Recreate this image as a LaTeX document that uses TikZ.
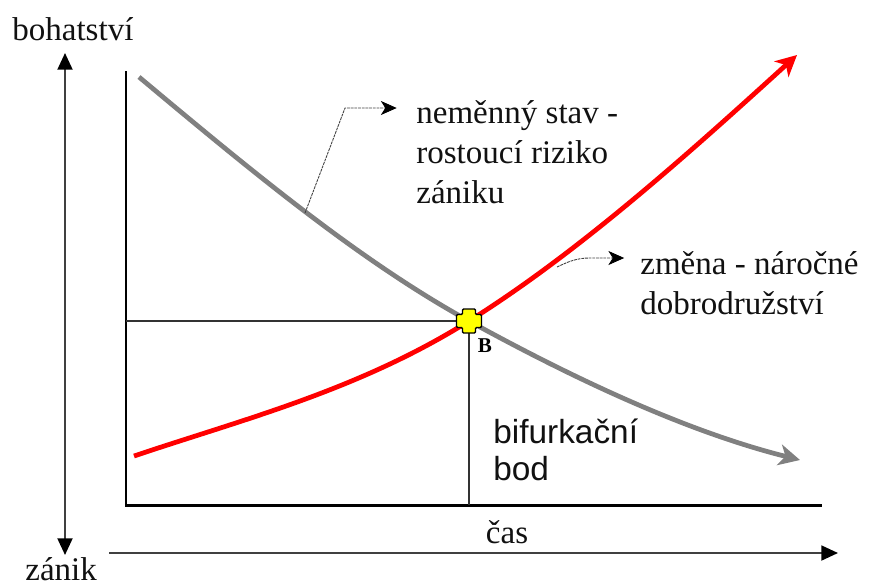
\documentclass[tikz,border=0pt]{standalone}
\usepackage{fontspec}
\setmainfont{Liberation Serif}
\newfontfamily\bifsans{Liberation Sans}
\usepackage{tikz}
\usetikzlibrary{arrows.meta, calc}
\definecolor{bfInk}{HTML}{111111}
\definecolor{bfGray}{HTML}{808080}
\definecolor{bfRed}{HTML}{FF0000}
\definecolor{bfYellow}{HTML}{FFFF00}
\definecolor{bfCall}{HTML}{404040}
\tikzset{
  lbl/.style    ={font=\fontsize{18.8}{22.7}\selectfont, align=left, inner sep=0pt, text=bfInk},
  sanslbl/.style={font=\bifsans\fontsize{19}{21}\selectfont, align=left, inner sep=0pt, text=bfInk},
  axis/.style   ={line width=1.2pt, draw=black!75, {Triangle[length=9.5pt,width=8.5pt,black]}-{Triangle[length=9.5pt,width=8.5pt,black]}},
  taxis/.style  ={line width=1.2pt, draw=black!75, -{Triangle[length=9.5pt,width=8.5pt,black]}},
  frame/.style  ={line width=1.7pt, black},
  guide/.style  ={line width=0.9pt, black!80},
  stay/.style   ={line width=2.7pt, bfGray, -{Stealth[length=12pt,width=12pt,inset=3.5pt]}},
  move/.style   ={line width=2.7pt, bfRed, -{Stealth[length=12pt,width=12pt,inset=3.5pt]}},
  call/.style   ={line width=0.5pt, bfCall, dash pattern=on 1.6pt off 0.5pt, -{Stealth[black,length=9pt,width=8pt,inset=2.5pt]}},
  crossmark/.style={draw=black, line width=0.8pt, fill=bfYellow, rounded corners=0.6pt},
}

\begin{document}
\begin{tikzpicture}[x=0.02cm, y=-0.02cm]
\useasboundingbox (0,0) rectangle (875,585);

% ---- outer axes ----
\coordinate (wtop) at (65,53);
\coordinate (wbot) at (65,555);
\coordinate (tstart) at (109,553);
\coordinate (tend) at (838,553);
\node[lbl, anchor=base west] (wealth)  at (12,40)   {bohatství};
\node[lbl, anchor=base west] (decline) at (25,580)  {zánik};
\node[lbl, anchor=base]      (time)    at (507,543) {čas};
\draw[axis]  (wtop) -- (wbot);
\draw[taxis] (tstart) -- (tend);

% ---- plot frame and guides ----
\coordinate (O)     at (126,505);
\coordinate (otop)  at (126,71);
\coordinate (oright) at (822,505);
\coordinate (B)     at (469,321);
\draw[frame] (otop) -- (O) -- (oright);
\draw[guide] (B -| O) -- (B) -- (B |- O);

% ---- curves ----
\draw[stay] (139,77) .. controls (249,169) and (359,260.5) .. (B)
  .. controls (579,381.5) and (690,432.5) .. (800,460);
\draw[move] (134,456) .. controls (244,419) and (359,390) .. (B)
  .. controls (579,252) and (687,155) .. (797,55);

% ---- bifurcation marker ----
\draw[crossmark] ([shift={(-6.5,-12)}]B) -- ++(13,0) -- ++(0,5.5) -- ++(6,0) -- ++(0,13)
  -- ++(-6,0) -- ++(0,5.5) -- ++(-13,0) -- ++(0,-5.5) -- ++(-6,0) -- ++(0,-13) -- ++(6,0) -- cycle;
\node[font=\fontsize{12}{14}\selectfont\bfseries, inner sep=0pt] (Blbl) at (485,346) {B};

% ---- labels and callouts ----
\node[lbl, anchor=north west] (risk)   at (416,100) {neměnný stav -\\rostoucí riziko\\zániku};
\node[lbl, anchor=north west] (change) at (640,251) {změna - náročné\\dobrodružství};
\node[sanslbl, anchor=north west] (bif) at (493,419) {bifurkační\\bod};

\coordinate (riskfoot)   at (305,213);
\coordinate (riskbend)   at (345,108);
\coordinate (changefoot) at (557,267);
\coordinate (changebend) at (590,258);
\draw[call] (riskfoot) -- (riskbend) -- ([xshift=-11pt]riskbend -| risk.west);
\draw[call] (changefoot) to[out=25,in=180] (changebend) -- ([xshift=-9pt]changebend -| change.west);
\end{tikzpicture}
\end{document}
